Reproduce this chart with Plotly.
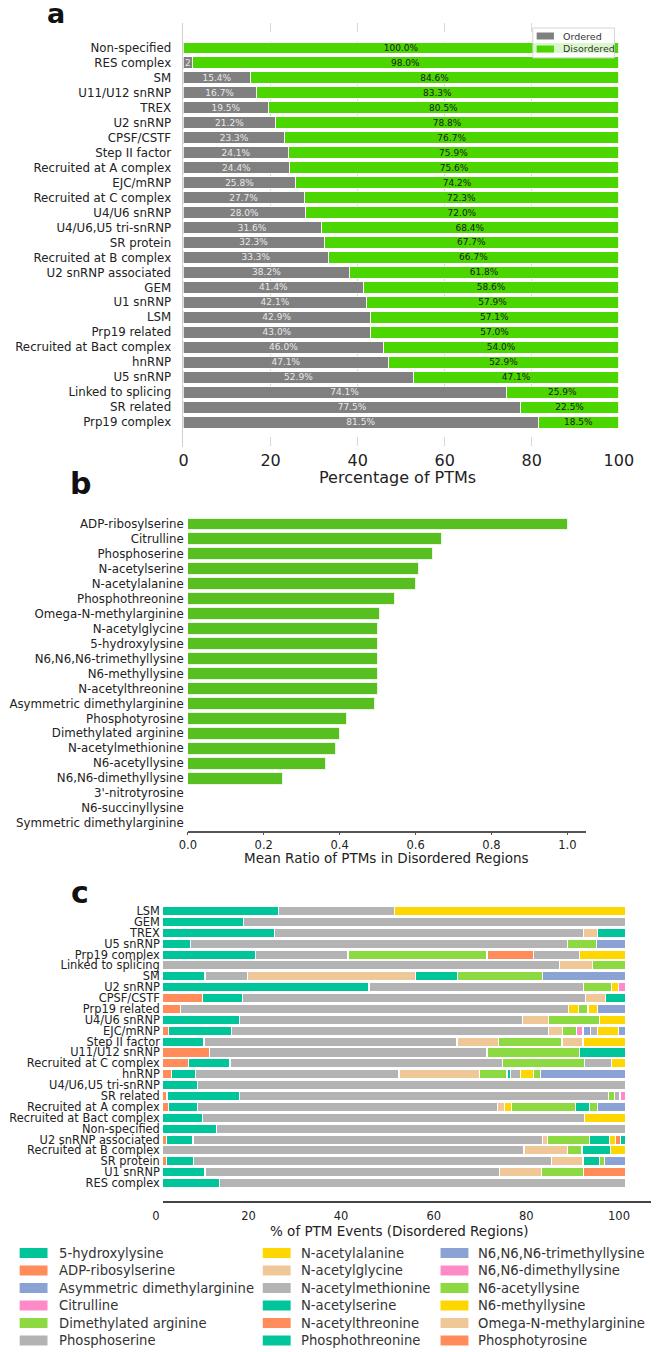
import plotly.graph_objects as go

W, H = 666, 1352
FONT = "DejaVu Sans"

# ---------------- Panel a data ----------------
a_categories = ["Non-specified", "RES complex", "SM", "U11/U12 snRNP", "TREX", "U2 snRNP",
                "CPSF/CSTF", "Step II factor", "Recruited at A complex", "EJC/mRNP",
                "Recruited at C complex", "U4/U6 snRNP", "U4/U6,U5 tri-snRNP", "SR protein",
                "Recruited at B complex", "U2 snRNP associated", "GEM", "U1 snRNP", "LSM",
                "Prp19 related", "Recruited at Bact complex", "hnRNP", "U5 snRNP",
                "Linked to splicing", "SR related", "Prp19 complex"]
a_ordered = [0.0, 2.0, 15.4, 16.7, 19.5, 21.2, 23.3, 24.1, 24.4, 25.8, 27.7, 28.0, 31.6, 32.3,
             33.3, 38.2, 41.4, 42.1, 42.9, 43.0, 46.0, 47.1, 52.9, 74.1, 77.5, 81.5]
a_disordered = [100.0, 98.0, 84.6, 83.3, 80.5, 78.8, 76.7, 75.9, 75.6, 74.2, 72.3, 72.0, 68.4,
                67.7, 66.7, 61.8, 58.6, 57.9, 57.1, 57.0, 54.0, 52.9, 47.1, 25.9, 22.5, 18.5]
a_ticks = [0, 20, 40, 60, 80, 100]

# ---------------- Panel b data ----------------
b_ptms = ["ADP-ribosylserine", "Citrulline", "Phosphoserine", "N-acetylserine", "N-acetylalanine",
          "Phosphothreonine", "Omega-N-methylarginine", "N-acetylglycine", "5-hydroxylysine",
          "N6,N6,N6-trimethyllysine", "N6-methyllysine", "N-acetylthreonine",
          "Asymmetric dimethylarginine", "Phosphotyrosine", "Dimethylated arginine",
          "N-acetylmethionine", "N6-acetyllysine", "N6,N6-dimethyllysine", "3'-nitrotyrosine",
          "N6-succinyllysine", "Symmetric dimethylarginine"]
b_ratio = [1.0, 0.667, 0.645, 0.608, 0.600, 0.545, 0.505, 0.500, 0.500, 0.500, 0.500, 0.500,
           0.491, 0.417, 0.400, 0.389, 0.363, 0.250, 0.0, 0.0, 0.0]
b_ticks = [0.0, 0.2, 0.4, 0.6, 0.8, 1.0]

# ---------------- Panel c data ----------------
c_categories = ["LSM", "GEM", "TREX", "U5 snRNP", "Prp19 complex", "Linked to splicing", "SM",
                "U2 snRNP", "CPSF/CSTF", "Prp19 related", "U4/U6 snRNP", "EJC/mRNP",
                "Step II factor", "U11/U12 snRNP", "Recruited at C complex", "hnRNP",
                "U4/U6,U5 tri-snRNP", "SR related", "Recruited at A complex",
                "Recruited at Bact complex", "Non-specified", "U2 snRNP associated",
                "Recruited at B complex", "SR protein", "U1 snRNP", "RES complex"]
c_ticks = [0, 20, 40, 60, 80, 100]

phosphotyrosine = [0, 0, 0, 0, 0, 0, 0, 0, 8.5, 3.9, 0, 1.2, 0, 10.0, 5.6, 1.9, 0, 0.9, 1.2, 0, 0, 0.8, 0, 0.8, 0, 0]
phosphothreonine = [25.0, 17.4, 24.1, 6.0, 20.0, 0, 9.1, 44.5, 8.7, 0, 16.5, 13.7, 8.9, 0, 8.9, 5.15, 7.4, 15.6, 6.2, 8.6, 11.6, 5.7, 0, 5.8, 9.1, 12.2]
phosphoserine = [25.0, 82.6, 66.7, 81.4, 20.0, 85.7, 9.1, 46.4, 74.0, 83.7, 61.2, 68.3, 54.6, 60.0, 58.9, 43.95, 92.6, 79.8, 64.8, 82.5, 88.4, 75.4, 78.0, 77.4, 63.6, 87.8]
omega_n_methylarginine = [0, 0, 3.0, 0, 0, 7.1, 36.4, 0, 4.3, 0, 5.5, 3.1, 9.0, 0, 0, 17.4, 0, 0, 1.5, 0, 0, 1.1, 9.3, 6.7, 9.1, 0]
n6_methyllysine = [0, 0, 0, 0, 0, 0, 0, 0, 0, 2.1, 0, 0, 0, 0, 0, 0, 0, 0, 1.5, 0, 0, 0, 0, 0, 0, 0]
n6_acetyllysine = [0, 0, 0, 6.2, 30.0, 7.2, 0, 6.0, 0, 2.1, 11.1, 3.1, 13.7, 20.0, 17.6, 5.9, 0, 1.2, 13.9, 0, 0, 9.1, 3.2, 0, 9.1, 0]
n6n6_dimethyllysine = [0, 0, 0, 0, 0, 0, 0, 0, 0, 0, 0, 1.3, 0, 0, 0, 0, 0, 0, 0, 0, 0, 0, 0, 0, 0, 0]
n6n6n6_trimethyllysine = [0, 0, 0, 0, 0, 0, 0, 0, 0, 0, 0, 1.6, 0, 0, 0, 0, 0, 0, 0, 0, 0, 0, 0, 0, 0, 0]
n_acetylthreonine = [0, 0, 0, 0, 10.0, 0, 0, 0, 0, 0, 0, 0, 0, 0, 0, 0, 0, 0, 0, 0, 0, 0, 0, 0, 9.1, 0]
n_acetylserine = [0, 0, 6.2, 0, 0, 0, 9.1, 0, 4.5, 0, 0, 0, 0, 10.0, 0, 0.7, 0, 0, 3.1, 0, 0, 4.4, 6.2, 3.5, 0, 0]
n_acetylmethionine = [0, 0, 0, 0, 10.0, 0, 0, 0, 0, 0, 0, 1.5, 0, 0, 5.9, 2.2, 0, 1.2, 0, 0, 0, 0, 0, 0, 0, 0]
n_acetylglycine = [0, 0, 0, 0, 0, 0, 0, 0, 0, 0, 0, 0, 4.5, 0, 0, 0, 0, 0, 0, 0, 0, 0, 0, 0, 0, 0]
n_acetylalanine = [50.0, 0, 0, 0, 10.0, 0, 0, 1.4, 0, 2.0, 5.7, 4.5, 9.3, 0, 3.1, 2.9, 0, 0, 0, 8.9, 0, 1.2, 3.3, 0, 0, 0]
dimethylated_arginine = [0, 0, 0, 0, 0, 0, 18.2, 0, 0, 0, 0, 0, 0, 0, 0, 1.4, 0, 0, 1.6, 0, 0, 0, 0, 1.2, 0, 0]
citrulline = [0, 0, 0, 0, 0, 0, 0, 1.7, 0, 0, 0, 0, 0, 0, 0, 0, 0, 1.3, 0, 0, 0, 0, 0, 0, 0, 0]
asymmetric_dimethylarginine = [0, 0, 0, 6.4, 0, 0, 18.1, 0, 0, 6.2, 0, 1.7, 0, 0, 0, 18.5, 0, 0, 6.2, 0, 0, 0, 0, 4.6, 0, 0]
adp_ribosylserine = [0, 0, 0, 0, 0, 0, 0, 0, 0, 0, 0, 0, 0, 0, 0, 0, 0, 0, 0, 0, 0, 1.1, 0, 0, 0, 0]
hydroxylysine_5 = [0, 0, 0, 0, 0, 0, 0, 0, 0, 0, 0, 0, 0, 0, 0, 0, 0, 0, 0, 0, 0, 1.2, 0, 0, 0, 0]

# stacking order, left to right
c_series = [
    ("Phosphotyrosine", phosphotyrosine),
    ("Phosphothreonine", phosphothreonine),
    ("Phosphoserine", phosphoserine),
    ("Omega-N-methylarginine", omega_n_methylarginine),
    ("N6-methyllysine", n6_methyllysine),
    ("N6-acetyllysine", n6_acetyllysine),
    ("N6,N6-dimethyllysine", n6n6_dimethyllysine),
    ("N6,N6,N6-trimethyllysine", n6n6n6_trimethyllysine),
    ("N-acetylthreonine", n_acetylthreonine),
    ("N-acetylserine", n_acetylserine),
    ("N-acetylmethionine", n_acetylmethionine),
    ("N-acetylglycine", n_acetylglycine),
    ("N-acetylalanine", n_acetylalanine),
    ("Dimethylated arginine", dimethylated_arginine),
    ("Citrulline", citrulline),
    ("Asymmetric dimethylarginine", asymmetric_dimethylarginine),
    ("ADP-ribosylserine", adp_ribosylserine),
    ("5-hydroxylysine", hydroxylysine_5),
]
palette = ["#00c49a", "#ff8c5a", "#8aa2d4", "#ff8ac8", "#8cd942", "#ffd700", "#f0c796", "#b3b3b3"]
c_names_sorted = sorted(n for n, _ in c_series)
c_color = {n: palette[i % len(palette)] for i, n in enumerate(c_names_sorted)}
c_legend_cols = [
    ["5-hydroxylysine", "ADP-ribosylserine", "Asymmetric dimethylarginine", "Citrulline",
     "Dimethylated arginine", "Phosphoserine"],
    ["N-acetylalanine", "N-acetylglycine", "N-acetylmethionine", "N-acetylserine",
     "N-acetylthreonine", "Phosphothreonine"],
    ["N6,N6,N6-trimethyllysine", "N6,N6-dimethyllysine", "N6-acetyllysine", "N6-methyllysine",
     "Omega-N-methylarginine", "Phosphotyrosine"],
]

GRAY_A = "#808080"
GREEN_A = "#4cd600"
GREEN_B = "#57bf1f"


def px(x):
    return x / W


def py(y):
    return 1 - y / H


def a_label(v):
    if v <= 0:
        return ""
    if v < 5:
        return f"{v:.0f}"
    return f"{v:.1f}%"


fig = go.Figure()

# Panel a
fig.add_trace(go.Bar(
    y=a_categories, x=[v if v > 0 else None for v in a_ordered], orientation="h",
    name="Ordered", marker=dict(color=GRAY_A, line=dict(color="white", width=1)),
    width=0.8, text=[a_label(v) for v in a_ordered], textposition="inside",
    insidetextanchor="middle", constraintext="none", textangle=0,
    insidetextfont=dict(family=FONT, size=9, color="#e8e8e8"),
    xaxis="x", yaxis="y", showlegend=False, hoverinfo="skip"))
fig.add_trace(go.Bar(
    y=a_categories, x=a_disordered, orientation="h", name="Disordered",
    marker=dict(color=GREEN_A, line=dict(color="white", width=1)),
    width=0.8, text=[a_label(v) for v in a_disordered], textposition="inside",
    insidetextanchor="middle", constraintext="none", textangle=0,
    insidetextfont=dict(family=FONT, size=9, color="#1a1a1a"),
    xaxis="x", yaxis="y", showlegend=False, hoverinfo="skip"))

# Panel b
fig.add_trace(go.Bar(
    y=b_ptms, x=[v if v > 0 else None for v in b_ratio], orientation="h",
    marker=dict(color=GREEN_B, line=dict(color="#e8f5e0", width=1)), width=0.8,
    xaxis="x2", yaxis="y2", showlegend=False, hoverinfo="skip"))

# Panel c
for name, vals in c_series:
    fig.add_trace(go.Bar(
        y=c_categories, x=[v if v > 0 else None for v in vals], orientation="h", name=name,
        marker=dict(color=c_color[name], line=dict(color="white", width=1.2)), width=0.85,
        xaxis="x3", yaxis="y3", showlegend=False, hoverinfo="skip"))

tick_font = dict(family=FONT, color="#222")

layout = dict(
    width=W, height=H, margin=dict(l=0, r=0, t=0, b=0),
    paper_bgcolor="white", plot_bgcolor="white", barmode="stack", bargap=0.2,
    font=dict(family=FONT, color="#222"),
    xaxis=dict(domain=[px(179.5), px(632.5)], range=[0, 100], anchor="y",
               tickvals=a_ticks, ticks="", showline=False, zeroline=False,
               showgrid=True, griddash="dash", gridcolor="#d8d8d8", gridwidth=0.8,
               tickfont=dict(size=16, **tick_font), ticklabelstandoff=2),
    yaxis=dict(domain=[py(447), py(23)], type="category", categoryorder="array",
               categoryarray=a_categories, tickmode="array", tickvals=a_categories,
               ticktext=a_categories, range=[len(a_categories) - 1 + 1.67, -1.67],
               anchor="x", ticks="", showline=True, linecolor="#cfcfcf", linewidth=1,
               showgrid=False, zeroline=False, tickfont=dict(size=11.8, **tick_font),
               ticklabelstandoff=9),
    xaxis2=dict(domain=[px(184), px(598)], range=[0, 1.048], anchor="y2",
                tickvals=b_ticks, ticktext=[f"{t:.1f}" for t in b_ticks],
                ticks="outside", ticklen=3, tickcolor="#555", showline=True,
                linecolor="#555", linewidth=1.5, zeroline=False, showgrid=False,
                tickfont=dict(size=11.5, **tick_font)),
    yaxis2=dict(domain=[py(830.5), py(516.5)], type="category", categoryorder="array",
                categoryarray=b_ptms, tickmode="array", tickvals=b_ptms, ticktext=b_ptms,
                range=[len(b_ptms) - 0.5, -0.5], anchor="x2",
                ticks="", showline=False, showgrid=False, zeroline=False,
                tickfont=dict(size=11.8, **tick_font), ticklabelstandoff=3),
    xaxis3=dict(domain=[px(158), 1.0], range=[0, 105.4], anchor="y3",
                tickvals=c_ticks, ticks="", showline=True, linecolor="#444", linewidth=1.6,
                zeroline=False, showgrid=False, ticklabelshift=-7, ticklabelstandoff=3,
                tickfont=dict(size=11.5, **tick_font)),
    yaxis3=dict(domain=[py(1201), py(904.5)], type="category", categoryorder="array",
                categoryarray=c_categories, tickmode="array", tickvals=c_categories,
                ticktext=c_categories, range=[len(c_categories) - 1 + 1.65, -0.6],
                anchor="x3", ticks="", showline=False, showgrid=False, zeroline=False,
                tickfont=dict(size=11.4, **tick_font), ticklabelstandoff=2),
)
fig.update_layout(**layout)

annotations = []
shapes = []


def text_at(x, y, s, size, bold=False, xanchor="center", color="#222"):
    annotations.append(dict(x=px(x), y=py(y), xref="paper", yref="paper", text=f"<b>{s}</b>" if bold else s,
                            showarrow=False, xanchor=xanchor, yanchor="middle",
                            font=dict(family=FONT, size=size, color=color)))


# panel letters
text_at(47, 14, "a", 27, bold=True, color="#111")
text_at(72, 483, "b", 30, bold=True, color="#111")
text_at(72, 892, "c", 30, bold=True, color="#111")

# axis titles
text_at(402, 478, "Percentage of PTMs", 16)
text_at(391, 858, "Mean Ratio of PTMs in Disordered Regions", 13.5)
text_at(404, 1231, "% of PTM Events (Disordered Regions)", 13.5)

# legend panel a
shapes.append(dict(type="rect", xref="paper", yref="paper", x0=px(543), x1=px(628), y0=py(58), y1=py(28),
                   fillcolor="rgba(255,255,255,0.8)", line=dict(color="#cccccc", width=0.8), layer="above"))
for i, (lab, col) in enumerate([("Ordered", GRAY_A), ("Disordered", GREEN_A)]):
    yc = 36 + i * 13
    shapes.append(dict(type="rect", xref="paper", yref="paper", x0=px(547), x1=px(565),
                       y0=py(yc + 3.5), y1=py(yc - 3.5), fillcolor=col, line=dict(width=0), layer="above"))
    text_at(572, yc, lab, 9.5, xanchor="left", color="#333")

# legend panel c
col_patch_x = [9, 262, 447]
col_text_x = [48, 300, 484]
for ci, names in enumerate(c_legend_cols):
    for ri, name in enumerate(names):
        yc = 1253 + ri * 17.5
        shapes.append(dict(type="rect", xref="paper", yref="paper", x0=px(col_patch_x[ci]),
                           x1=px(col_patch_x[ci] + 29), y0=py(yc + 5), y1=py(yc - 5),
                           fillcolor=c_color[name], line=dict(width=0), layer="above"))
        text_at(col_text_x[ci], yc, name, 13.2, xanchor="left", color="#333")

fig.update_layout(annotations=annotations, shapes=shapes)
fig.write_html("out.html")
